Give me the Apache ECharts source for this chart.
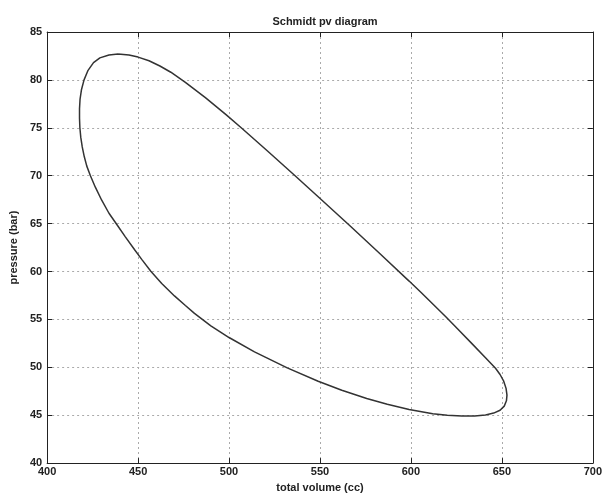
<!DOCTYPE html>
<html>
<head>
<meta charset="utf-8">
<title>Schmidt pv diagram</title>
<script src="https://cdn.jsdelivr.net/npm/echarts@6/dist/echarts.min.js"></script>
<style>
  html, body { margin: 0; padding: 0; background: #fff; }
  #chart { width: 605px; height: 498px; }
</style>
</head>
<body>
<div id="chart"></div>
<script>
  // loop, going clockwise from the top
  var volume = [
    439, 445, 450, 456, 462, 468, 476, 487, 498.5, 506.7,
    521, 536, 549, 566.6, 583, 599, 605.6, 619.3, 626, 633.8,
    641, 646.5, 649, 651, 652.3, 652.8, 652.5, 651.3, 649, 645.5,
    641, 635, 628, 620, 612, 599, 587, 575.7, 562, 549,
    532, 514, 500, 490, 481, 476, 470, 463, 457, 452,
    448, 443, 438.5, 434, 430, 426.5, 423.8, 421.8, 420.4, 419.3,
    418.5, 418, 417.8, 417.8, 418.1, 418.9, 420.3, 422.5, 425.5, 429,
    434, 439
  ]
  var pressure = [
    82.7, 82.6, 82.38, 82.0, 81.45, 80.8, 79.75, 78.15, 76.35, 75.0,
    72.6, 70.05, 67.8, 64.75, 61.85, 59.0, 57.8, 55.25, 53.95, 52.42,
    51.0, 49.9, 49.25, 48.55, 47.8, 47.1, 46.5, 45.95, 45.52, 45.22,
    45.02, 44.92, 44.92, 45.0, 45.15, 45.6, 46.14, 46.75, 47.61, 48.55,
    49.94, 51.61, 53.11, 54.33, 55.63, 56.45, 57.45, 58.75, 60.02, 61.27,
    62.3, 63.62, 64.85, 66.08, 67.44, 68.8, 70.0, 71.0, 72.0, 73.0,
    74.0, 75.0, 76.0, 77.0, 78.0, 79.0, 80.0, 81.0, 81.8, 82.3,
    82.6, 82.7
  ]
  var xTicks = [400, 700, 50]
  var yTicks = [40, 85, 5]

  var pts = volume.map(function (v, i) { return [v, pressure[i]] })

  var font = 'Liberation Sans, Arial, sans-serif'
  var txt = { fontFamily: font, fontSize: 11, fontWeight: 'bold', color: '#222' }
  var axisLine = { show: true, lineStyle: { color: '#222', width: 1 } }
  var tick = { show: true, inside: true, length: 5, lineStyle: { color: '#222' } }
  var gridLine = { show: true, lineStyle: { color: '#aaa', type: [2, 3], width: 1 } }

  var chart = echarts.init(document.getElementById('chart'))
  chart.setOption({
    backgroundColor: '#fff',
    animation: false,
    title: {
      text: 'Schmidt pv diagram',
      left: 320,
      top: 11,
      textAlign: 'center',
      textStyle: txt
    },
    grid: { left: 44, right: 10, top: 32, bottom: 32 },
    xAxis: [{
      type: 'value',
      min: xTicks[0], max: xTicks[1], interval: xTicks[2],
      name: 'total volume (cc)',
      nameLocation: 'middle',
      nameGap: 18,
      nameTextStyle: txt,
      axisLine: axisLine,
      axisTick: tick,
      axisLabel: Object.assign({ margin: 3 }, txt),
      splitLine: gridLine
    }, {
      type: 'value', position: 'top',
      min: xTicks[0], max: xTicks[1], interval: xTicks[2],
      axisLine: axisLine,
      axisTick: tick,
      axisLabel: { show: false },
      splitLine: { show: false }
    }],
    yAxis: [{
      type: 'value',
      min: yTicks[0], max: yTicks[1], interval: yTicks[2],
      name: 'pressure (bar)',
      nameLocation: 'middle',
      nameGap: 22,
      nameTextStyle: txt,
      axisLine: axisLine,
      axisTick: tick,
      axisLabel: Object.assign({ margin: 5 }, txt),
      splitLine: gridLine
    }, {
      type: 'value', position: 'right',
      min: yTicks[0], max: yTicks[1], interval: yTicks[2],
      axisLine: axisLine,
      axisTick: tick,
      axisLabel: { show: false },
      splitLine: { show: false }
    }],
    series: [{
      type: 'line',
      data: pts,
      smooth: false,
      showSymbol: false,
      lineStyle: { color: '#333', width: 1.5 }
    }]
  })
</script>
</body>
</html>
